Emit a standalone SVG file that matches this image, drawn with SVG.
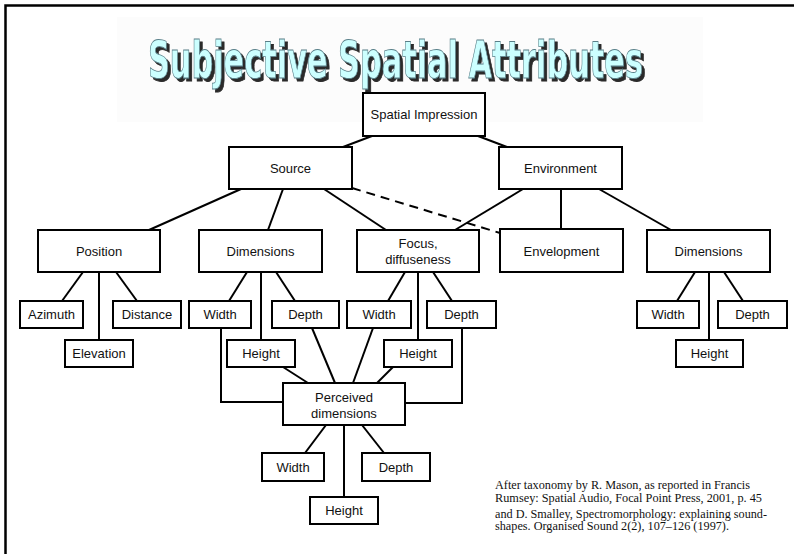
<svg xmlns="http://www.w3.org/2000/svg" width="794" height="554" viewBox="0 0 794 554">
<style>
.box{fill:#fff;stroke:#000;stroke-width:2}
.lbl{font-family:"Liberation Sans",Arial,sans-serif;font-size:13px;fill:#111;text-anchor:middle}
.ln{stroke:#000;stroke-width:2;fill:none}
.dash{stroke:#000;stroke-width:2;fill:none;stroke-dasharray:9,6}
.cite{font-family:"Liberation Serif","Times New Roman",serif;font-size:11.5px;fill:#111}
.ttl{font-family:"DejaVu Sans Condensed","DejaVu Sans",sans-serif;font-weight:bold;font-size:52px}
</style>
<defs>
<filter id="shadow" x="-5%" y="-20%" width="110%" height="150%">
<feOffset in="SourceAlpha" dx="3" dy="3" result="off"/>
<feGaussianBlur in="off" stdDeviation="0.6" result="blur"/>
<feFlood flood-color="#2a2a2a"/>
<feComposite in2="blur" operator="in" result="sh"/>
<feMerge><feMergeNode in="sh"/><feMergeNode in="SourceGraphic"/></feMerge>
</filter>
</defs>
<rect width="794" height="554" fill="#fff"/>
<rect x="117" y="17" width="586" height="105" fill="#fcfcfc"/>
<path d="M5.5,560 V5.5 H800" fill="none" stroke="#000" stroke-width="2.5"/>
<g id="title">
<text class="ttl" x="148" y="78" textLength="495" lengthAdjust="spacingAndGlyphs" fill="#ccffff" stroke="#5a7f88" stroke-width="0.8" filter="url(#shadow)">Subjective Spatial Attributes</text>
</g>
<g id="connectors">
<line class="ln" x1="343" y1="147" x2="372" y2="136"/>
<line class="ln" x1="478" y1="136" x2="507" y2="147"/>
<line class="ln" x1="241" y1="189" x2="149" y2="230"/>
<line class="ln" x1="283" y1="189" x2="268" y2="230"/>
<line class="ln" x1="324" y1="189" x2="386" y2="230"/>
<line class="dash" x1="352" y1="188" x2="500" y2="233"/>
<line class="ln" x1="523" y1="189" x2="455" y2="230"/>
<line class="ln" x1="561" y1="189" x2="561" y2="229"/>
<line class="ln" x1="599" y1="189" x2="671" y2="230"/>
<line class="ln" x1="83" y1="272" x2="62" y2="301"/>
<line class="ln" x1="99" y1="272" x2="99" y2="340"/>
<line class="ln" x1="116" y1="272" x2="137" y2="301"/>
<line class="ln" x1="247" y1="272" x2="229" y2="301"/>
<line class="ln" x1="261" y1="272" x2="261" y2="340"/>
<line class="ln" x1="276" y1="272" x2="295" y2="301"/>
<line class="ln" x1="405" y1="272" x2="388" y2="301"/>
<line class="ln" x1="418" y1="272" x2="418" y2="340"/>
<line class="ln" x1="433" y1="272" x2="452" y2="301"/>
<line class="ln" x1="695" y1="272" x2="677" y2="301"/>
<line class="ln" x1="709" y1="272" x2="709" y2="340"/>
<line class="ln" x1="724" y1="272" x2="743" y2="301"/>
<polyline class="ln" points="221,328 221,402 283,402"/>
<line class="ln" x1="283" y1="367" x2="308" y2="383"/>
<line class="ln" x1="312" y1="328" x2="335" y2="383"/>
<line class="ln" x1="373" y1="328" x2="353" y2="383"/>
<line class="ln" x1="393" y1="367" x2="377" y2="383"/>
<polyline class="ln" points="462,328 462,403 405,403"/>
<line class="ln" x1="326" y1="425" x2="305" y2="453"/>
<line class="ln" x1="344" y1="425" x2="344" y2="497"/>
<line class="ln" x1="362" y1="425" x2="384" y2="453"/>
</g>
<g id="spatial-impression"><rect class="box" x="363" y="93" width="122" height="43"/><text class="lbl" x="424" y="119">Spatial Impression</text></g>
<g id="source"><rect class="box" x="229" y="147" width="123" height="42"/><text class="lbl" x="290.5" y="172.6">Source</text></g>
<g id="environment"><rect class="box" x="499" y="147" width="123" height="42"/><text class="lbl" x="560.5" y="172.6">Environment</text></g>
<g id="position"><rect class="box" x="38" y="230" width="122" height="42"/><text class="lbl" x="99" y="255.6">Position</text></g>
<g id="dimensions-source"><rect class="box" x="199" y="230" width="123" height="42"/><text class="lbl" x="260.5" y="255.6">Dimensions</text></g>
<g id="focus"><rect class="box" x="357" y="230" width="122" height="42"/><text class="lbl" x="418" y="247.6">Focus,</text><text class="lbl" x="418" y="263.6">diffuseness</text></g>
<g id="envelopment"><rect class="box" x="500" y="229" width="123" height="43"/><text class="lbl" x="561.5" y="255.6">Envelopment</text></g>
<g id="dimensions-env"><rect class="box" x="647" y="230" width="123" height="42"/><text class="lbl" x="708.5" y="255.6">Dimensions</text></g>
<g id="azimuth"><rect class="box" x="20" y="301" width="63" height="27"/><text class="lbl" x="51.5" y="319.1">Azimuth</text></g>
<g id="distance"><rect class="box" x="113" y="301" width="68" height="27"/><text class="lbl" x="147" y="319.1">Distance</text></g>
<g id="elevation"><rect class="box" x="65" y="340" width="68" height="27"/><text class="lbl" x="99" y="358.1">Elevation</text></g>
<g id="width-1"><rect class="box" x="189" y="301" width="62" height="27"/><text class="lbl" x="220" y="319.1">Width</text></g>
<g id="depth-1"><rect class="box" x="272" y="301" width="67" height="27"/><text class="lbl" x="305.5" y="319.1">Depth</text></g>
<g id="height-1"><rect class="box" x="227" y="340" width="68" height="27"/><text class="lbl" x="261" y="358.1">Height</text></g>
<g id="width-2"><rect class="box" x="347" y="301" width="64" height="27"/><text class="lbl" x="379" y="319.1">Width</text></g>
<g id="depth-2"><rect class="box" x="427" y="301" width="69" height="27"/><text class="lbl" x="461.5" y="319.1">Depth</text></g>
<g id="height-2"><rect class="box" x="384" y="340" width="68" height="27"/><text class="lbl" x="418" y="358.1">Height</text></g>
<g id="width-3"><rect class="box" x="637" y="301" width="62" height="27"/><text class="lbl" x="668" y="319.1">Width</text></g>
<g id="depth-3"><rect class="box" x="718" y="301" width="69" height="27"/><text class="lbl" x="752.5" y="319.1">Depth</text></g>
<g id="height-3"><rect class="box" x="676" y="340" width="67" height="27"/><text class="lbl" x="709.5" y="358.1">Height</text></g>
<g id="perceived"><rect class="box" x="283" y="383" width="122" height="42"/><text class="lbl" x="344" y="401.6">Perceived</text><text class="lbl" x="344" y="417.6">dimensions</text></g>
<g id="width-4"><rect class="box" x="262" y="453" width="62" height="28"/><text class="lbl" x="293" y="471.6">Width</text></g>
<g id="depth-4"><rect class="box" x="362" y="453" width="68" height="28"/><text class="lbl" x="396" y="471.6">Depth</text></g>
<g id="height-4"><rect class="box" x="310" y="497" width="68" height="27"/><text class="lbl" x="344" y="515.1">Height</text></g>
<g id="citation">
<text class="cite" x="495" y="489" textLength="255" lengthAdjust="spacingAndGlyphs">After taxonomy by R. Mason, as reported in Francis</text>
<text class="cite" x="495" y="501.5" textLength="267" lengthAdjust="spacingAndGlyphs">Rumsey: Spatial Audio, Focal Point Press, 2001, p. 45</text>
<text class="cite" x="495" y="518" textLength="272" lengthAdjust="spacingAndGlyphs">and D. Smalley, Spectromorphology: explaining sound-</text>
<text class="cite" x="495" y="529.5" textLength="234" lengthAdjust="spacingAndGlyphs">shapes. Organised Sound 2(2), 107–126 (1997).</text>
</g>
</svg>
